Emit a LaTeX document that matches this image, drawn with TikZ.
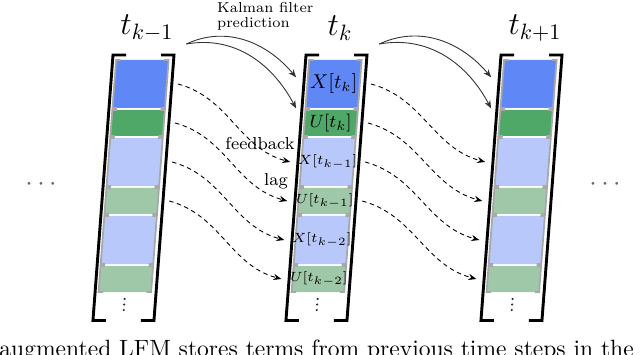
\documentclass[tikz,border=0pt]{standalone}
\usepackage{tikz}
\usetikzlibrary{arrows.meta}
\definecolor{xdark}{RGB}{96,135,246}
\definecolor{udark}{RGB}{80,168,104}
\definecolor{xlight}{RGB}{184,200,250}
\definecolor{ulight}{RGB}{158,200,168}
\definecolor{cellgray}{RGB}{168,168,168}

\begin{document}
\begin{tikzpicture}[x=0.45pt,y=-0.45pt,
  bracket/.style={line width=1.3pt},
  cellbr/.style={draw=cellgray,line width=0.8pt},
  cellnode/.style={inner sep=0,minimum width=33.3pt},
  flow/.style={dash pattern=on 2pt off 1.6pt,-{Stealth[length=3.6pt,width=2.8pt]}},
  kal/.style={black!80,-{Stealth[length=3.6pt,width=2.8pt]}},
  lbl/.style={inner sep=1pt,font=\fontsize{7.8}{9}\selectfont}]
\useasboundingbox (0,0) rectangle (640,355);
% the three stacked state vectors
\foreach \col/\cx/\tl in {L/113/{k-1},M/306/k,R/501/{k+1}}{
  \begin{scope}[shift={(\cx,55)},xslant=0.0755]
    \foreach \i/\ya/\yb/\clr in {1/5/53/xdark,2/55/81/udark,3/83/131/xlight,4/133/159/ulight,5/161/209/xlight,6/211/237/ulight}{
      \fill[\clr] (3.5,\ya) rectangle (56,\yb);
      \draw[cellbr] (8,\ya) -- (3.5,\ya) -- (3.5,\yb) -- (8,\yb);
      \draw[cellbr] (51.5,\ya) -- (56,\ya) -- (56,\yb) -- (51.5,\yb);
      \pgfmathsetmacro\hh{(\yb-\ya)*0.45}
      \node[cellnode,minimum height=\hh pt] (\col\i) at (29.75,{(\ya+\yb)/2}) {};
    }
    \draw[bracket] (13,0) -- (0,0) -- (0,265.5) -- (13,265.5);
    \draw[bracket] (48,0) -- (61,0) -- (61,265.5) -- (48,265.5);
    % vertical dots below the last cell
    \foreach \d in {244,249.5,255}
      \fill[black!80] (30,\d) circle (0.55pt);
    \node[inner sep=1pt,font=\Large] (t\col) at (32,-27) {$t_{\tl}$};
    \coordinate (kf\col) at (72.5,-11);
  \end{scope}
}
% terms held at the current step
\foreach \i/\fs/\lab in {1/9/X[t_k],2/8/U[t_k],3/6.2/X[t_{k-1}],4/6.2/U[t_{k-1}],5/6.2/X[t_{k-2}],6/6.2/U[t_{k-2}]}
  \node[inner sep=0,font=\fontsize{\fs}{\fs}\selectfont] (lab\i) at (M\i) {$\lab$};

% Kalman prediction arrows
\node[anchor=north west,align=left,inner sep=1pt,font=\fontsize{6.5}{6.4}\selectfont] (kalman) at (214.5,0) {Kalman filter\\prediction};
\draw[kal] (kfL) to[out=25,in=130] ([yshift=3pt]M1.west);
\draw[kal] (kfL) to[out=10,in=118] (M1.south west);
\draw[kal] (kfM) to[out=25,in=130] ([yshift=3pt]R1.west);
\draw[kal] (kfM) to[out=10,in=118] (R1.south west);

% dashed lag links
\foreach \i/\j in {1/3,2/4,3/5,4/6}{
  \draw[flow] (L\i.east) to[out=-15,in=165] (M\j.west);
  \draw[flow] (M\i.east) to[out=-15,in=165] (R\j.west);
}
\node[lbl] (fb) at (260,143) {feedback};
\node[lbl] (lag) at (276,181) {lag};

\node[font=\large,text=black!60] (ldots) at (41,185) {$\cdots$};
\node[font=\large,text=black!60] (rdots) at (605,185) {$\cdots$};

\node[anchor=base west,inner sep=0,font=\fontsize{10.6}{12}\selectfont] (caption) at (-1,356.5) {augmented LFM stores terms from previous time steps in the};
\end{tikzpicture}
\end{document}
